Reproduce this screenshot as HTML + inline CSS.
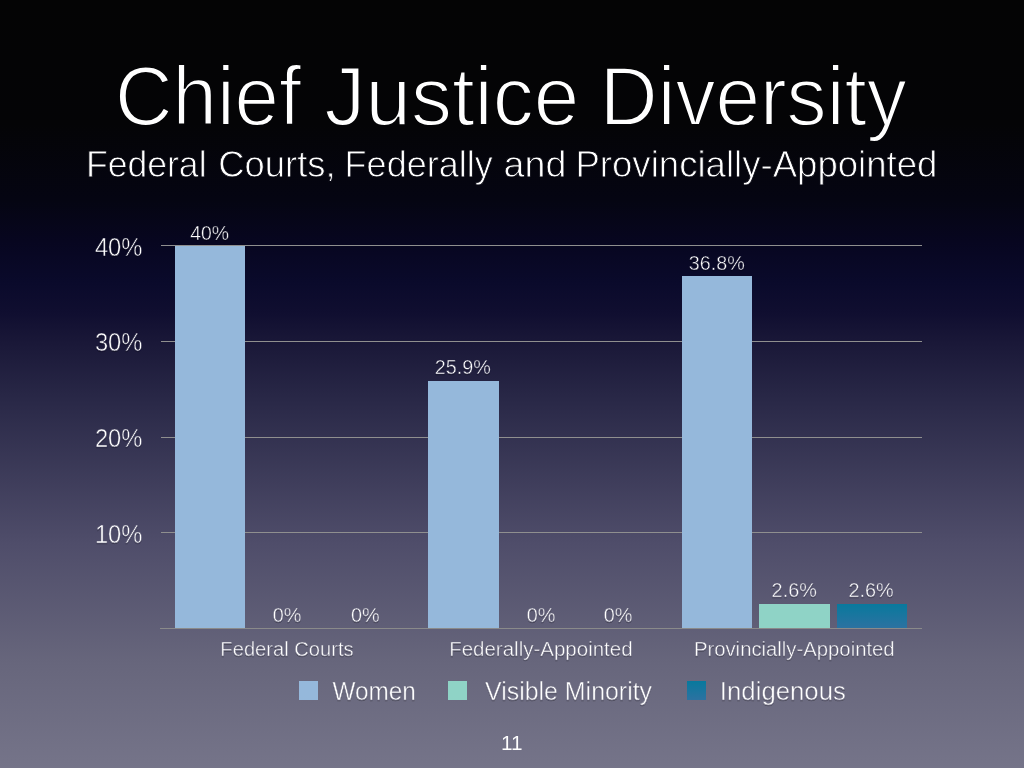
<!DOCTYPE html>
<html lang="en">
<head>
<meta charset="utf-8">
<title>Chief Justice Diversity</title>
<style>
  html, body { margin: 0; padding: 0; width: 1024px; height: 768px; overflow: hidden; background: #040404; }
  svg { display: block; }
  text { font-family: "Liberation Sans", Arial, Helvetica, sans-serif; fill: #ffffff; stroke: url(#bg); paint-order: fill stroke; }
  .title { font-size: 84.2px; stroke-width: 1.9px; }
  .sub { font-size: 36.3px; stroke-width: 0.8px; }
  .yl { font-size: 24.9px; stroke-width: 0.5px; }
  .bl { font-size: 20.1px; stroke-width: 0.45px; }
  .xl { font-size: 19.8px; stroke-width: 0.45px; }
  .lg { font-size: 25.7px; stroke-width: 0.5px; }
  .pn { font-size: 19.4px; stroke-width: 0.1px; }
</style>
</head>
<body>
<svg width="1024" height="768" viewBox="0 0 1024 768">
  <defs>
    <linearGradient id="bg" gradientUnits="userSpaceOnUse" x1="0" y1="0" x2="0" y2="768">
      <stop offset="0.0000" stop-color="#040404"/>
      <stop offset="0.1600" stop-color="#040406"/>
      <stop offset="0.2600" stop-color="#050512"/>
      <stop offset="0.3160" stop-color="#070620"/>
      <stop offset="0.3680" stop-color="#0a0a2b"/>
      <stop offset="0.4076" stop-color="#100e30"/>
      <stop offset="0.4470" stop-color="#1a1838"/>
      <stop offset="0.5250" stop-color="#2a2948"/>
      <stop offset="0.7070" stop-color="#4f4d6a"/>
      <stop offset="0.8630" stop-color="#67667c"/>
      <stop offset="1.0000" stop-color="#757489"/>
    </linearGradient>
    <linearGradient id="ind" x1="0" y1="0" x2="0" y2="1">
      <stop offset="0" stop-color="#08799d"/>
      <stop offset="1" stop-color="#2c72a1"/>
    </linearGradient>
    <!-- no-op filter: forces an offscreen layer so text is grayscale-antialiased -->
    <filter id="gray" filterUnits="userSpaceOnUse" x="0" y="0" width="1024" height="768"><feOffset dx="0" dy="0"/></filter>
    <!-- soft drop shadow used by chart text -->
    <filter id="sh" filterUnits="userSpaceOnUse" x="0" y="0" width="1024" height="768">
      <feGaussianBlur in="SourceAlpha" stdDeviation="0.7"/>
      <feOffset dx="0" dy="1"/>
      <feComponentTransfer><feFuncA type="linear" slope="0.3"/></feComponentTransfer>
      <feMerge><feMergeNode/><feMergeNode in="SourceGraphic"/></feMerge>
    </filter>
  </defs>

  <g filter="url(#gray)">
  <!-- slide background -->
  <rect x="0" y="0" width="1024" height="768" fill="url(#bg)"/>

  <!-- headings -->
  <text class="title" y="125.00"><tspan x="115.00" textLength="186.09" lengthAdjust="spacingAndGlyphs">Chief</tspan> <tspan x="324.60" textLength="254.59" lengthAdjust="spacingAndGlyphs">Justice</tspan> <tspan x="599.83" textLength="306.86" lengthAdjust="spacingAndGlyphs">Diversity</tspan></text>
  <text class="sub" y="177.00"><tspan x="85.93" textLength="120.63" lengthAdjust="spacingAndGlyphs">Federal</tspan> <tspan x="218.30" textLength="117.38" lengthAdjust="spacingAndGlyphs">Courts,</tspan> <tspan x="344.61" textLength="148.11" lengthAdjust="spacingAndGlyphs">Federally</tspan> <tspan x="503.57" textLength="62.83" lengthAdjust="spacingAndGlyphs">and</tspan> <tspan x="575.44" textLength="361.97" lengthAdjust="spacingAndGlyphs">Provincially-Appointed</tspan></text>

  <!-- gridlines -->
  <g fill="#8f8f8f">
    <rect x="161" y="245" width="761" height="1"/>
    <rect x="161" y="341" width="761" height="1"/>
    <rect x="161" y="437" width="761" height="1"/>
    <rect x="161" y="532" width="761" height="1"/>
  </g>

  <!-- y axis labels -->
  <g filter="url(#sh)">
  <text class="yl" x="94.90" y="256.00" textLength="47.50" lengthAdjust="spacingAndGlyphs">40%</text>
  <text class="yl" x="94.90" y="351.00" textLength="47.50" lengthAdjust="spacingAndGlyphs">30%</text>
  <text class="yl" x="94.90" y="447.00" textLength="47.50" lengthAdjust="spacingAndGlyphs">20%</text>
  <text class="yl" x="94.90" y="543.00" textLength="47.50" lengthAdjust="spacingAndGlyphs">10%</text>
  </g>

  <!-- bars -->
  <g fill="#95b8db">
    <rect x="175" y="246" width="70" height="382"/>
    <rect x="428" y="381" width="71" height="247"/>
    <rect x="682" y="276" width="70" height="352"/>
  </g>
  <rect x="759" y="604" width="71" height="24" fill="#8fd3c6"/>
  <rect x="837" y="604" width="70" height="24" fill="url(#ind)"/>

  <!-- x axis line -->
  <rect x="160" y="628" width="762" height="1" fill="#8a8a8a"/>

  <!-- legend swatches -->
  <rect x="299" y="681" width="19" height="19" fill="#95b8db"/>
  <rect x="448" y="681" width="19" height="19" fill="#8fd3c6"/>
  <rect x="687" y="681" width="19" height="19" fill="url(#ind)"/>

  <!-- bar value labels, category labels, legend text -->
  <g filter="url(#sh)">
  <text class="bl" x="190.29" y="240.00" textLength="38.82" lengthAdjust="spacingAndGlyphs">40%</text>
  <text class="bl" x="272.72" y="622.00" textLength="28.69" lengthAdjust="spacingAndGlyphs">0%</text>
  <text class="bl" x="350.88" y="622.00" textLength="28.69" lengthAdjust="spacingAndGlyphs">0%</text>
  <text class="bl" x="434.81" y="374.00" textLength="56.06" lengthAdjust="spacingAndGlyphs">25.9%</text>
  <text class="bl" x="526.63" y="622.00" textLength="28.69" lengthAdjust="spacingAndGlyphs">0%</text>
  <text class="bl" x="603.72" y="622.00" textLength="28.69" lengthAdjust="spacingAndGlyphs">0%</text>
  <text class="bl" x="688.80" y="270.00" textLength="55.96" lengthAdjust="spacingAndGlyphs">36.8%</text>
  <text class="bl" x="771.61" y="597.00" textLength="45.17" lengthAdjust="spacingAndGlyphs">2.6%</text>
  <text class="bl" x="848.52" y="597.00" textLength="45.17" lengthAdjust="spacingAndGlyphs">2.6%</text>

  <!-- category labels -->
  <text class="xl" x="220.37" y="656.00" textLength="133.29" lengthAdjust="spacingAndGlyphs">Federal Courts</text>
  <text class="xl" x="449.17" y="656.00" textLength="183.44" lengthAdjust="spacingAndGlyphs">Federally-Appointed</text>
  <text class="xl" x="693.92" y="656.00" textLength="200.75" lengthAdjust="spacingAndGlyphs">Provincially-Appointed</text>

  <!-- legend text -->
  <text class="lg" x="332.40" y="700.00" textLength="83.45" lengthAdjust="spacingAndGlyphs">Women</text>
  <text class="lg" x="484.98" y="700.00" textLength="167.09" lengthAdjust="spacingAndGlyphs">Visible Minority</text>
  <text class="lg" x="719.85" y="700.00" textLength="126.07" lengthAdjust="spacingAndGlyphs">Indigenous</text>
  </g>

  <!-- slide number -->
  <text class="pn" x="501.10" y="750.00" textLength="21.60" lengthAdjust="spacingAndGlyphs">11</text>
  </g>
</svg>
</body>
</html>
